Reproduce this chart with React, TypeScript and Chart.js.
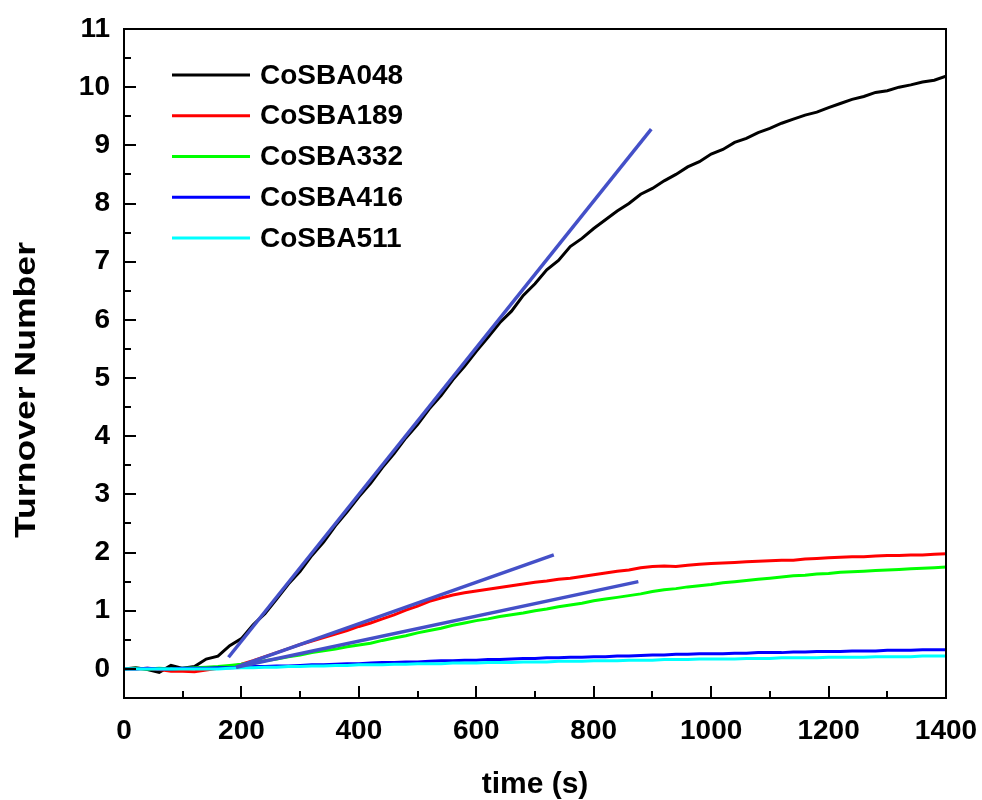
import React, { useEffect, useRef } from 'react';
import { Chart, registerables } from 'chart.js';

Chart.register(...registerables);

const TIME = [
  0, 20, 40, 60, 80, 100, 120, 140, 160, 180, 200, 220, 240, 260, 280, 300, 320, 340, 360, 380,
  400, 420, 440, 460, 480, 500, 520, 540, 560, 580, 600, 620, 640, 660, 680, 700, 720, 740, 760, 780,
  800, 820, 840, 860, 880, 900, 920, 940, 960, 980, 1000, 1020, 1040, 1060, 1080, 1100, 1120, 1140, 1160, 1180,
  1200, 1220, 1240, 1260, 1280, 1300, 1320, 1340, 1360, 1380, 1400,
];

const COSBA048 = [
  0.0, 0.02, -0.01, -0.06, 0.06, 0.01, 0.04, 0.17, 0.22, 0.4, 0.52, 0.76, 0.95, 1.2, 1.46, 1.68, 1.95, 2.18, 2.46, 2.7,
  2.96, 3.19, 3.46, 3.7, 3.97, 4.2, 4.47, 4.7, 4.97, 5.2, 5.46, 5.7, 5.95, 6.15, 6.42, 6.62, 6.86, 7.02, 7.26, 7.4,
  7.57, 7.72, 7.87, 8.0, 8.16, 8.26, 8.39, 8.5, 8.63, 8.72, 8.85, 8.93, 9.05, 9.12, 9.22, 9.29, 9.38, 9.45, 9.52, 9.57,
  9.65, 9.72, 9.79, 9.84, 9.91, 9.94, 10.0, 10.04, 10.09, 10.12, 10.19,
];

const COSBA189 = [
  0.0, 0.0, 0.01, -0.01, -0.04, -0.04, -0.05, -0.02, 0.01, 0.03, 0.08, 0.14, 0.21, 0.28, 0.35, 0.42, 0.48, 0.54, 0.6, 0.66,
  0.73, 0.79, 0.86, 0.93, 1.01, 1.08, 1.16, 1.22, 1.27, 1.31, 1.34, 1.37, 1.4, 1.43, 1.46, 1.49, 1.51, 1.54, 1.56, 1.59,
  1.62, 1.65, 1.68, 1.7, 1.74, 1.76, 1.77, 1.76, 1.78, 1.8, 1.81, 1.82, 1.83, 1.84, 1.85, 1.86, 1.87, 1.87, 1.89, 1.9,
  1.91, 1.92, 1.93, 1.93, 1.94, 1.95, 1.95, 1.96, 1.96, 1.97, 1.98,
];

const COSBA332 = [
  0.0, 0.01, 0.0, 0.01, 0.0, 0.01, 0.02, 0.03, 0.04, 0.06, 0.08, 0.11, 0.14, 0.17, 0.21, 0.24, 0.28, 0.31, 0.34, 0.38,
  0.41, 0.44, 0.49, 0.53, 0.57, 0.62, 0.66, 0.7, 0.75, 0.79, 0.83, 0.86, 0.9, 0.93, 0.96, 1.0, 1.03, 1.07, 1.1, 1.13,
  1.17, 1.2, 1.23, 1.26, 1.29, 1.33, 1.36, 1.38, 1.41, 1.43, 1.45, 1.48, 1.5, 1.52, 1.54, 1.56, 1.58, 1.6, 1.61, 1.63,
  1.64, 1.66, 1.67, 1.68, 1.69, 1.7, 1.71, 1.72, 1.73, 1.74, 1.75,
];

const COSBA416 = [
  0.0, 0.0, 0.01, 0.0, 0.0, 0.01, 0.01, 0.01, 0.02, 0.02, 0.03, 0.04, 0.04, 0.05, 0.05, 0.06, 0.07, 0.07, 0.08, 0.09,
  0.09, 0.1, 0.11, 0.11, 0.12, 0.12, 0.13, 0.14, 0.14, 0.15, 0.15, 0.16, 0.16, 0.17, 0.18, 0.18, 0.19, 0.19, 0.2, 0.2,
  0.21, 0.21, 0.22, 0.22, 0.23, 0.24, 0.24, 0.25, 0.25, 0.26, 0.26, 0.26, 0.27, 0.27, 0.28, 0.28, 0.28, 0.29, 0.29, 0.3,
  0.3, 0.3, 0.31, 0.31, 0.31, 0.32, 0.32, 0.32, 0.33, 0.33, 0.33,
];

const COSBA511 = [
  0.0, 0.0, 0.0, 0.0, 0.0, 0.0, 0.0, 0.0, 0.0, 0.01, 0.02, 0.02, 0.03, 0.03, 0.04, 0.04, 0.05, 0.05, 0.06, 0.06,
  0.07, 0.07, 0.07, 0.08, 0.08, 0.09, 0.09, 0.09, 0.1, 0.1, 0.1, 0.11, 0.11, 0.11, 0.12, 0.12, 0.12, 0.13, 0.13, 0.13,
  0.14, 0.14, 0.14, 0.15, 0.15, 0.15, 0.16, 0.16, 0.16, 0.17, 0.17, 0.17, 0.17, 0.18, 0.18, 0.18, 0.19, 0.19, 0.19, 0.19,
  0.2, 0.2, 0.2, 0.2, 0.21, 0.21, 0.21, 0.21, 0.22, 0.22, 0.22,
];

// Linear fit segments (start / end points)
const FIT_048_X = [178, 898];
const FIT_048_Y = [0.2, 9.28];
const FIT_189_X = [191, 732];
const FIT_189_Y = [0.03, 1.96];
const FIT_332_X = [191, 876];
const FIT_332_Y = [0.03, 1.5];

const SERIES_NAMES = ['CoSBA048', 'CoSBA189', 'CoSBA332', 'CoSBA416', 'CoSBA511'];
const SERIES_COLORS = ['#000000', '#ff0000', '#00ff00', '#0000ff', '#00ffff'];
const FIT_COLOR = '#4450c8';

const X_TICKS = [0, 200, 400, 600, 800, 1000, 1200, 1400];
const X_MINOR = [100, 300, 500, 700, 900, 1100, 1300];
const Y_TICKS = [0, 1, 2, 3, 4, 5, 6, 7, 8, 9, 10, 11];
const Y_MINOR = [0.5, 1.5, 2.5, 3.5, 4.5, 5.5, 6.5, 7.5, 8.5, 9.5, 10.5];

const X_TITLE = 'time (s)';
const Y_TITLE = 'Turnover Number';
const FONT = "'Liberation Sans', Arial, sans-serif";

const pairs = (xs: number[], ys: number[]) => xs.map((x, i) => ({ x, y: ys[i] }));

const decorPlugin = {
  id: 'decor',
  afterDatasetsDraw(chart: any) {
    const { ctx, chartArea: a, scales } = chart;
    const xs = scales.x;
    const ys = scales.y;
    ctx.save();
    ctx.strokeStyle = '#000';
    ctx.lineWidth = 2;
    ctx.lineCap = 'butt';
    ctx.beginPath();
    X_TICKS.forEach((v) => {
      const p = Math.round(xs.getPixelForValue(v));
      ctx.moveTo(p, a.bottom);
      ctx.lineTo(p, a.bottom - 12);
    });
    X_MINOR.forEach((v) => {
      const p = Math.round(xs.getPixelForValue(v));
      ctx.moveTo(p, a.bottom);
      ctx.lineTo(p, a.bottom - 7);
    });
    Y_TICKS.forEach((v) => {
      const p = Math.round(ys.getPixelForValue(v));
      ctx.moveTo(a.left, p);
      ctx.lineTo(a.left + 12, p);
    });
    Y_MINOR.forEach((v) => {
      const p = Math.round(ys.getPixelForValue(v));
      ctx.moveTo(a.left, p);
      ctx.lineTo(a.left + 7, p);
    });
    ctx.stroke();
    ctx.strokeRect(a.left, a.top, a.right - a.left, a.bottom - a.top);

    // legend
    ctx.font = `bold 28px ${FONT}`;
    ctx.textAlign = 'left';
    ctx.textBaseline = 'middle';
    SERIES_NAMES.forEach((name, i) => {
      const y = 75 + i * 40.75;
      ctx.strokeStyle = SERIES_COLORS[i];
      ctx.lineWidth = 3;
      ctx.beginPath();
      ctx.moveTo(172, y);
      ctx.lineTo(250, y);
      ctx.stroke();
      ctx.fillStyle = '#000';
      ctx.fillText(name, 260, y + 1);
    });

    // x title
    ctx.fillStyle = '#000';
    ctx.font = `bold 30px ${FONT}`;
    ctx.textAlign = 'center';
    ctx.textBaseline = 'alphabetic';
    ctx.fillText(X_TITLE, (a.left + a.right) / 2, 793);

    // y title
    ctx.save();
    ctx.translate(35, 390);
    ctx.rotate(-Math.PI / 2);
    const w = ctx.measureText(Y_TITLE).width;
    ctx.scale(296 / w, 1);
    ctx.fillText(Y_TITLE, 0, 0);
    ctx.restore();

    ctx.restore();
  },
};

export default function App() {
  const ref = useRef<HTMLCanvasElement | null>(null);

  useEffect(() => {
    document.body.style.margin = '0';
    const canvas = ref.current;
    if (!canvas) return;
    const seriesData = [COSBA048, COSBA189, COSBA332, COSBA416, COSBA511];
    const datasets: any[] = seriesData.map((vals, i) => ({
      label: SERIES_NAMES[i],
      data: pairs(TIME, vals),
      borderColor: SERIES_COLORS[i],
      borderWidth: 3,
      pointRadius: 0,
      tension: 0,
      order: 5 - i + 1,
    }));
    const fits = [
      [FIT_048_X, FIT_048_Y],
      [FIT_189_X, FIT_189_Y],
      [FIT_332_X, FIT_332_Y],
    ];
    fits.forEach(([fx, fy], i) => {
      datasets.push({
        label: 'fit' + i,
        data: pairs(fx, fy),
        borderColor: FIT_COLOR,
        borderWidth: 3.5,
        pointRadius: 0,
        tension: 0,
        order: 0,
      });
    });

    const tickFont = { family: FONT, size: 28, weight: 'bold' as const };

    const chart = new Chart(canvas, {
      type: 'line',
      data: { datasets },
      plugins: [decorPlugin],
      options: {
        animation: false,
        responsive: false,
        devicePixelRatio: 1,
        layout: { padding: { top: 29, right: 36, left: 0, bottom: 0 } },
        plugins: { legend: { display: false }, tooltip: { enabled: false } },
        scales: {
          x: {
            type: 'linear',
            min: 0,
            max: 1400,
            grid: { display: false, drawTicks: false },
            border: { display: false },
            afterBuildTicks: (s: any) => {
              s.ticks = X_TICKS.map((v) => ({ value: v }));
            },
            afterFit: (s: any) => {
              s.height = 102;
              s.paddingLeft = 0;
              s.paddingRight = 0;
            },
            ticks: {
              color: '#000',
              font: tickFont,
              padding: 16,
              maxRotation: 0,
              autoSkip: false,
              callback: (v: any) => String(v),
            },
          },
          y: {
            type: 'linear',
            min: -0.5,
            max: 11,
            grid: { display: false, drawTicks: false },
            border: { display: false },
            afterBuildTicks: (s: any) => {
              s.ticks = Y_TICKS.map((v) => ({ value: v }));
            },
            afterFit: (s: any) => {
              s.width = 124;
              s.paddingTop = 0;
              s.paddingBottom = 0;
            },
            ticks: {
              color: '#000',
              font: tickFont,
              padding: 14,
              autoSkip: false,
              callback: (v: any) => String(v),
            },
          },
        },
      },
    });
    return () => chart.destroy();
  }, []);

  return (
    <div style={{ width: 982, height: 800, background: '#fff' }}>
      <canvas ref={ref} width={982} height={800} style={{ display: 'block' }} />
    </div>
  );
}
